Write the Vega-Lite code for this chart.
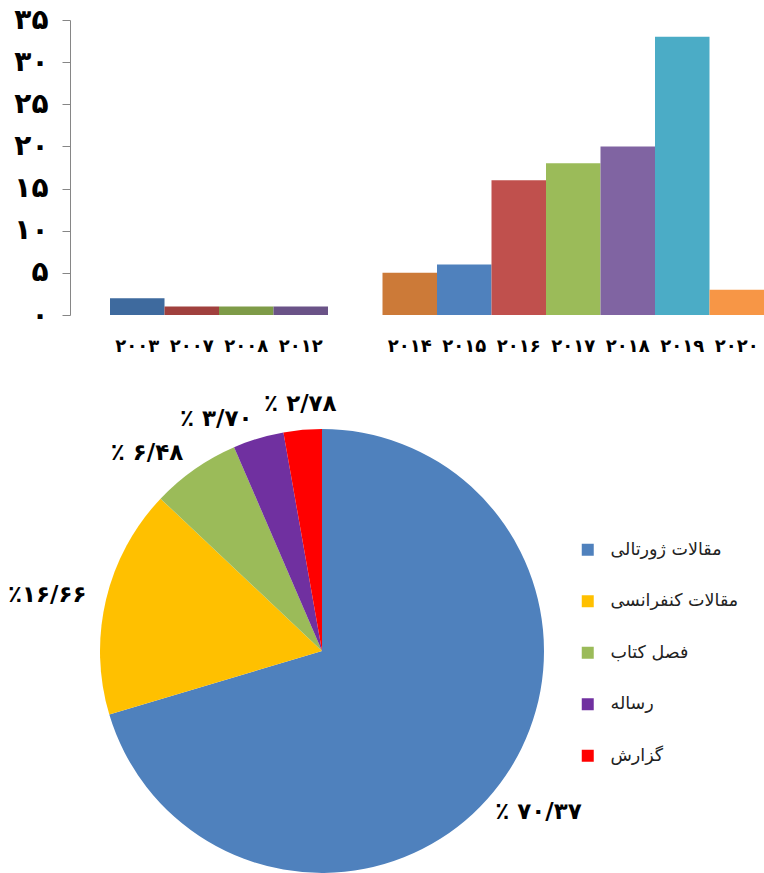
{
  "$schema": "https://vega.github.io/schema/vega-lite/v6.json",
  "background": "white",
  "padding": {"left": 7, "top": 6, "right": 0, "bottom": 0},
  "spacing": 16,
  "config": {"view": {"stroke": null}},
  "resolve": {"scale": {"color": "independent"}},
  "vconcat": [
    {
      "width": 694,
      "height": 295,
      "data": {"values": [
        {"year": "۲۰۰۳", "count": 2},
        {"year": "۲۰۰۷", "count": 1},
        {"year": "۲۰۰۸", "count": 1},
        {"year": "۲۰۱۲", "count": 1},
        {"year": "۲۰۱۴", "count": 5},
        {"year": "۲۰۱۵", "count": 6},
        {"year": "۲۰۱۶", "count": 16},
        {"year": "۲۰۱۷", "count": 18},
        {"year": "۲۰۱۸", "count": 20},
        {"year": "۲۰۱۹", "count": 33},
        {"year": "۲۰۲۰", "count": 3}
      ]},
      "mark": {"type": "bar"},
      "encoding": {
        "x": {
          "field": "year", "type": "nominal",
          "scale": {
            "domain": ["۲۰۰۳","۲۰۰۷","۲۰۰۸","۲۰۱۲"," ","۲۰۱۴","۲۰۱۵","۲۰۱۶","۲۰۱۷","۲۰۱۸","۲۰۱۹","۲۰۲۰"],
            "paddingInner": 0, "paddingOuter": 0.367, "align": 1
          },
          "axis": {
            "title": null, "domain": false, "ticks": false, "labelAngle": 0,
            "labelFont": "DejaVu Sans", "labelFontWeight": "bold", "labelFontSize": 18,
            "labelColor": "#000000", "labelPadding": 22
          }
        },
        "y": {
          "field": "count", "type": "quantitative",
          "scale": {"domain": [0, 35], "nice": false},
          "axis": {
            "title": null, "grid": false, "values": [0,5,10,15,20,25,30,35],
            "domainColor": "#868686", "tickColor": "#868686", "tickSize": 8,
            "labelFont": "DejaVu Sans", "labelFontWeight": "bold", "labelFontSize": 28,
            "labelColor": "#000000", "labelPadding": 14,
            "labelExpr": "replace(replace(replace(replace(replace(datum.label,'0','۰'),'1','۱'),'2','۲'),'3','۳'),'5','۵')"
          }
        },
        "color": {
          "field": "year", "type": "nominal", "legend": null,
          "scale": {
            "domain": ["۲۰۰۳","۲۰۰۷","۲۰۰۸","۲۰۱۲","۲۰۱۴","۲۰۱۵","۲۰۱۶","۲۰۱۷","۲۰۱۸","۲۰۱۹","۲۰۲۰"],
            "range": ["#3E6A9E","#A0403D","#7E9B48","#6A5387","#CC7A38","#4F81BD","#C0504D","#9BBB59","#8064A2","#4BACC6","#F79646"]
          }
        }
      }
    },
    {
      "width": 504,
      "height": 446,
      "data": {"values": [
        {"type": "مقالات ژورتالی", "i": 1, "pct": 70.37, "label": "٪ ۷۰/۳۷"},
        {"type": "مقالات کنفرانسی", "i": 2, "pct": 16.66, "label": "٪۱۶/۶۶"},
        {"type": "فصل کتاب", "i": 3, "pct": 6.48, "label": "٪ ۶/۴۸"},
        {"type": "رساله", "i": 4, "pct": 3.70, "label": "٪ ۳/۷۰"},
        {"type": "گزارش", "i": 5, "pct": 2.78, "label": "٪ ۲/۷۸"}
      ]},
      "encoding": {
        "theta": {"field": "pct", "type": "quantitative", "stack": true},
        "order": {"field": "i", "type": "quantitative"}
      },
      "layer": [
        {
          "mark": {"type": "arc", "outerRadius": 222},
          "encoding": {
            "color": {
              "field": "type", "type": "nominal",
              "scale": {
                "domain": ["مقالات ژورتالی","مقالات کنفرانسی","فصل کتاب","رساله","گزارش"],
                "range": ["#4F81BD","#FFC000","#9BBB59","#7030A0","#FF0000"]
              },
              "legend": {
                "title": null, "orient": "none", "legendX": 509, "legendY": 113,
                "symbolType": "square", "symbolSize": 144, "symbolStrokeWidth": 0,
                "labelFont": "DejaVu Sans", "labelFontSize": 17.5, "labelColor": "#222222",
                "rowPadding": 32.5, "labelOffset": 14
              }
            }
          }
        },
        {
          "mark": {"type": "text", "radius": 270, "font": "DejaVu Sans", "fontWeight": "bold", "fontSize": 23, "color": "#000000"},
          "encoding": {"text": {"condition": {"test": "datum.i == 1", "field": "label"}, "value": ""}}
        },
        {
          "mark": {"type": "text", "radius": 242, "align": "right", "font": "DejaVu Sans", "fontWeight": "bold", "fontSize": 23, "color": "#000000"},
          "encoding": {"text": {"condition": {"test": "datum.i >= 2 && datum.i <= 4", "field": "label"}, "value": ""}}
        },
        {
          "mark": {"type": "text", "radius": 248, "font": "DejaVu Sans", "fontWeight": "bold", "fontSize": 23, "color": "#000000"},
          "encoding": {"text": {"condition": {"test": "datum.i == 5", "field": "label"}, "value": ""}}
        }
      ]
    }
  ]
}
